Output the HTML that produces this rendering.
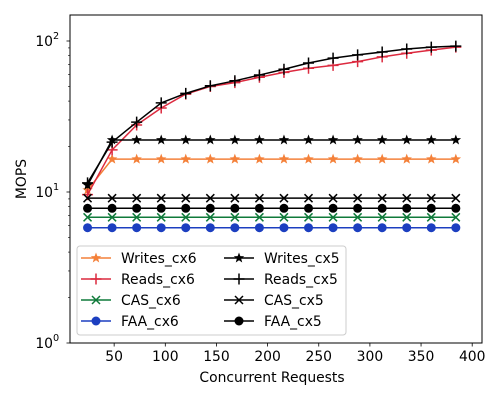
<!DOCTYPE html>
<html><head><meta charset="utf-8"><style>
body{margin:0;background:#fff;}
svg{font-family:"DejaVu Sans","Liberation Sans",sans-serif;}
</style></head><body>
<svg id="chart" width="500" height="400">
<rect width="500" height="400" fill="#fff"/>
<g id="marks"></g>
<rect x="70" y="15" width="412" height="328" fill="none" stroke="#000" stroke-width="1"/>
<g id="axes"></g>
<text x="272" y="382" font-size="13.9" text-anchor="middle">Concurrent Requests</text>
<text transform="translate(26,179) rotate(-90)" font-size="13.9" text-anchor="middle">MOPS</text>
<g id="legend"></g>
</svg>
<script>
const xValues=[24,48,72,96,120,144,168,192,216,240,264,288,312,336,360,384];
const writesCx6=[10.3,16.5,16.5,16.5,16.5,16.5,16.5,16.5,16.5,16.5,16.5,16.5,16.5,16.5,16.5,16.5];
const readsCx6=[9.6,19,27.8,36,44.5,50,53,57.5,62,66,69,73,78.5,83,87,91];
const casCx6=[6.8,6.8,6.8,6.8,6.8,6.8,6.8,6.8,6.8,6.8,6.8,6.8,6.8,6.8,6.8,6.8];
const faaCx6=[5.8,5.8,5.8,5.8,5.8,5.8,5.8,5.8,5.8,5.8,5.8,5.8,5.8,5.8,5.8,5.8];
const writesCx5=[11.1,22.1,22.1,22.1,22.1,22.1,22.1,22.1,22.1,22.1,22.1,22.1,22.1,22.1,22.1,22.1];
const readsCx5=[11.5,21.4,29,38.9,45,50.5,54.5,59.5,65,71.5,77,81,84.5,88.5,91,92.5];
const casCx5=[9.1,9.1,9.1,9.1,9.1,9.1,9.1,9.1,9.1,9.1,9.1,9.1,9.1,9.1,9.1,9.1];
const faaCx5=[7.8,7.8,7.8,7.8,7.8,7.8,7.8,7.8,7.8,7.8,7.8,7.8,7.8,7.8,7.8,7.8];
const xTicks=[50,100,150,200,250,300,350,400];
const yTicks=[1,10,100];
const yTickLabels=["10","10","10"];
const yTickExps=["0","1","2"];

const NS="http://www.w3.org/2000/svg";
function X(v){return 63+v*1.023;}
function Y(v){return 343-Math.log10(v)*151;}
function mk(tag,attrs,parent){const e=document.createElementNS(NS,tag);for(const k in attrs)e.setAttribute(k,attrs[k]);parent.appendChild(e);return e;}
function star(cx,cy,r){let p=[];for(let i=0;i<10;i++){const a=-Math.PI/2+i*Math.PI/5;const rr=i%2?r*0.42:r;p.push((cx+rr*Math.cos(a)).toFixed(2)+","+(cy+rr*Math.sin(a)).toFixed(2));}return p.join(" ");}
function marker(g,type,cx,cy,color){
  if(type==="star")mk("polygon",{points:star(cx,cy,5.5),fill:color},g);
  else if(type==="plus"){mk("path",{d:`M${cx-5.5} ${cy}H${cx+5.5}M${cx} ${cy-5.5}V${cy+5.5}`,stroke:color,"stroke-width":1.5},g);}
  else if(type==="x"){mk("path",{d:`M${cx-4} ${cy-4}L${cx+4} ${cy+4}M${cx-4} ${cy+4}L${cx+4} ${cy-4}`,stroke:color,"stroke-width":1.5,fill:"none"},g);}
  else mk("circle",{cx:cx,cy:cy,r:4.5,fill:color},g);
}
const series=[
 {name:"Writes_cx6",data:writesCx6,color:"#f4813a",m:"star"},
 {name:"Reads_cx6",data:readsCx6,color:"#dc2a3f",m:"plus"},
 {name:"CAS_cx6",data:casCx6,color:"#0f7a3a",m:"x"},
 {name:"FAA_cx6",data:faaCx6,color:"#1c3fc0",m:"circle"},
 {name:"Writes_cx5",data:writesCx5,color:"#000",m:"star"},
 {name:"Reads_cx5",data:readsCx5,color:"#000",m:"plus"},
 {name:"CAS_cx5",data:casCx5,color:"#000",m:"x"},
 {name:"FAA_cx5",data:faaCx5,color:"#000",m:"circle"}
];
const marks=document.getElementById("marks");
series.forEach(s=>{
  const g=mk("g",{},marks);
  
  
  const pts=s.data.map((v,i)=>X(xValues[i]).toFixed(2)+","+Y(v).toFixed(2)).join(" ");
  const pl=mk("polyline",{points:pts,fill:"none",stroke:s.color,"stroke-width":1.5},g);
  
  
  s.data.forEach((v,i)=>marker(g,s.m,X(xValues[i]),Y(v),s.color));
});
const axes=document.getElementById("axes");
xTicks.forEach(t=>{
  const x=X(t);
  mk("line",{x1:x,x2:x,y1:343,y2:346.5,stroke:"#000","stroke-width":0.8},axes);
  const tx=mk("text",{x:x,y:361,"font-size":13.9,"text-anchor":"middle"},axes);
  tx.textContent=t;
  
  
});
yTicks.forEach((t,i)=>{
  const y=Y(t);
  mk("line",{x1:66.5,x2:70,y1:y,y2:y,stroke:"#000","stroke-width":0.8},axes);
  for(let k=2;k<=9;k++){const v=t*k;const yy=Y(v);if(yy<15)break;mk("line",{x1:68,x2:70,y1:yy,y2:yy,stroke:"#000","stroke-width":0.6},axes);}
  const tx=mk("text",{x:53,y:y+5,"font-size":13.9,"text-anchor":"end"},axes);
  tx.textContent=yTickLabels[i];
  
  
  const ex=mk("text",{x:53,y:y-2,"font-size":9.7},axes);
  ex.textContent=yTickExps[i];
});
const lg=document.getElementById("legend");


mk("rect",{x:77,y:246,width:269,height:89,rx:3,fill:"#fff","fill-opacity":0.8,stroke:"#ccc"},lg);
series.forEach((s,i)=>{
  const col=Math.floor(i/4),row=i%4;
  const x0=col?224:81,y=258+row*21;
  const e=mk("g",{},lg);
  
  
  mk("line",{x1:x0,x2:x0+30,y1:y,y2:y,stroke:s.color,"stroke-width":1.5},e);
  marker(e,s.m,x0+15,y,s.color);
  const t=mk("text",{x:x0+40,y:y+5,"font-size":13.9},e);
  t.textContent=s.name;
});
</script>
</body></html>
